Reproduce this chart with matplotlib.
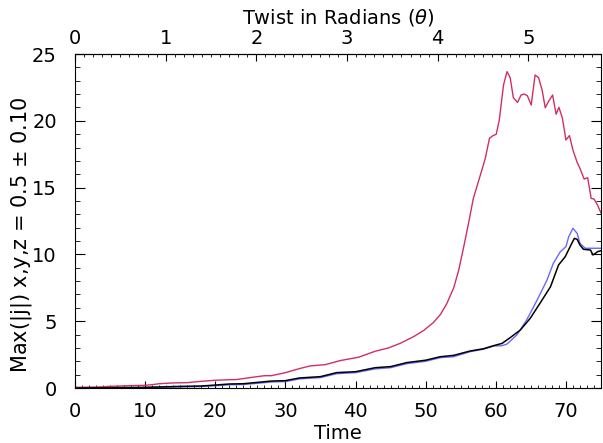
import matplotlib
matplotlib.use("Agg")
import matplotlib.pyplot as plt
from matplotlib.ticker import MultipleLocator, FixedLocator

plt.rcParams['font.family'] = ['DejaVu Sans']
plt.rcParams['mathtext.fontset'] = 'dejavusans'

# time units per radian of twist
t_per_rad = 12.93

# max |j| at x = 0.5
red_t = [0, 3, 5, 8, 10, 11, 12, 14, 16, 18, 20, 22, 23, 25, 27, 28, 30, 32,
         33.5, 35.7, 37.8, 40.4, 42.8, 44.7, 46.4, 48.3, 49.7, 51.1, 52.1, 53.0,
         54.0, 54.7, 55.4, 56.1, 56.8, 57.8, 58.5, 59.1, 59.6, 60.06, 60.5,
         61.1, 61.6, 62.05, 62.5, 63.1, 63.6, 64.05, 64.5, 65.05, 65.6, 66.1,
         66.6, 67.05, 67.5, 68.1, 68.6, 69.0, 69.5, 70.0, 70.5, 71.0, 71.6,
         72.0, 72.6, 73.1, 73.6, 74.0, 74.5, 75.0]
red_j = [0.05, 0.07, 0.12, 0.18, 0.2, 0.25, 0.32, 0.38, 0.4, 0.5, 0.58, 0.62,
         0.63, 0.78, 0.92, 0.92, 1.15, 1.45, 1.65, 1.75, 2.05, 2.3, 2.75, 3.0,
         3.35, 3.85, 4.3, 4.9, 5.5, 6.3, 7.5, 8.8, 10.5, 12.3, 14.2, 15.94,
         17.19, 18.69, 18.89, 18.99, 20.06, 22.68, 23.68, 23.23, 21.73, 21.38,
         21.93, 22.0, 21.88, 21.18, 23.43, 23.23, 22.31, 20.98, 21.43, 21.93,
         20.49, 21.01, 20.19, 18.56, 18.89, 17.81, 16.89, 16.44, 15.64, 15.74,
         14.19, 14.15, 13.7, 13.1]

# max |j| at y = 0.5
blue_t = [0, 5, 10, 15, 18, 20, 22, 24, 26, 28, 30, 32, 35, 37.3, 40, 42.8, 45,
          47.3, 50, 52.07, 53.97, 56.35, 58.25, 59.7, 60.9, 61.6, 63.0, 64.4,
          65.9, 67.3, 68.2, 69.2, 70.0, 70.4, 71.0, 71.6, 72.0, 72.75, 73.9,
          75.0]
blue_j = [0.0, 0.01, 0.03, 0.08, 0.11, 0.17, 0.24, 0.26, 0.35, 0.45, 0.48,
          0.68, 0.78, 1.07, 1.15, 1.43, 1.52, 1.82, 2.0, 2.27, 2.34, 2.72, 2.9,
          3.14, 3.17, 3.29, 3.97, 5.09, 6.59, 8.08, 9.33, 10.2, 10.58, 11.33,
          11.95, 11.58, 10.83, 10.46, 10.46, 10.46]

# max |j| at z = 0.5
black_t = [0, 5, 10, 15, 18, 20, 22, 24, 26, 28, 30, 32, 35, 37.3, 40, 42.8,
           45, 47.3, 50, 52.07, 53.97, 56.35, 58.25, 59.7, 60.9, 62.05, 63.5,
           64.9, 66.3, 67.8, 68.95, 69.9, 70.6, 71.2, 71.6, 72.0, 72.5, 73.5,
           73.85, 74.2, 74.5, 75.0]
black_j = [0.0, 0.02, 0.05, 0.12, 0.15, 0.22, 0.3, 0.32, 0.42, 0.52, 0.55,
           0.75, 0.85, 1.15, 1.22, 1.52, 1.6, 1.9, 2.08, 2.34, 2.44, 2.77, 2.94,
           3.17, 3.34, 3.77, 4.34, 5.21, 6.34, 7.58, 9.21, 9.83, 10.58, 11.2,
           11.13, 10.7, 10.38, 10.33, 9.96, 10.08, 10.2, 10.28]

theta_ticks = [0, 1, 2, 3, 4, 5]

fig = plt.figure(figsize=(6.03, 4.43), dpi=100)
ax = fig.add_axes([75 / 603, 1 - 388 / 443, 526 / 603, 334 / 443])

ax.plot(red_t, red_j, color='#d0305f', lw=1.0)
ax.plot(blue_t, blue_j, color='#6868ff', lw=1.0)
ax.plot(black_t, black_j, color='black', lw=1.1)

ax.set_xlim(0, 75)
ax.set_ylim(0, 25)
ax.xaxis.set_major_locator(MultipleLocator(10))
ax.xaxis.set_minor_locator(MultipleLocator(1))
ax.yaxis.set_major_locator(MultipleLocator(5))
ax.yaxis.set_minor_locator(MultipleLocator(1))
ax.tick_params(axis='x', which='major', direction='in', length=5, width=0.8,
               labelsize=14, pad=10, bottom=True, top=False)
ax.tick_params(axis='x', which='minor', direction='in', length=2.5, width=0.6,
               bottom=True, top=False)
ax.tick_params(axis='y', which='major', direction='in', length=7, width=0.8,
               labelsize=14, pad=13, left=True, right=True)
ax.tick_params(axis='y', which='minor', direction='in', length=3.5, width=0.6,
               left=True, right=True)
for s in ax.spines.values():
    s.set_linewidth(0.8)

ax.set_xlabel('Time', fontsize=14, labelpad=2)
ax.set_ylabel(r'Max(|j|) x,y,z = 0.5 $\pm$ 0.10', fontsize=15)
ax.yaxis.set_label_coords(-0.078, 0.46)

# twist angle along the top
top = ax.secondary_xaxis('top', functions=(lambda t: t / t_per_rad,
                                           lambda th: th * t_per_rad))
top.xaxis.set_major_locator(FixedLocator(theta_ticks))
top.xaxis.set_minor_locator(FixedLocator([i / 10 for i in range(0, 59)]))
top.tick_params(which='major', direction='in', length=5, width=0.8,
                labelsize=14, pad=4)
top.tick_params(which='minor', direction='in', length=2.5, width=0.6)
top.set_xlabel(r'Twist in Radians ($\theta$)', fontsize=14, labelpad=4)

fig.savefig('out.png', dpi=100)
